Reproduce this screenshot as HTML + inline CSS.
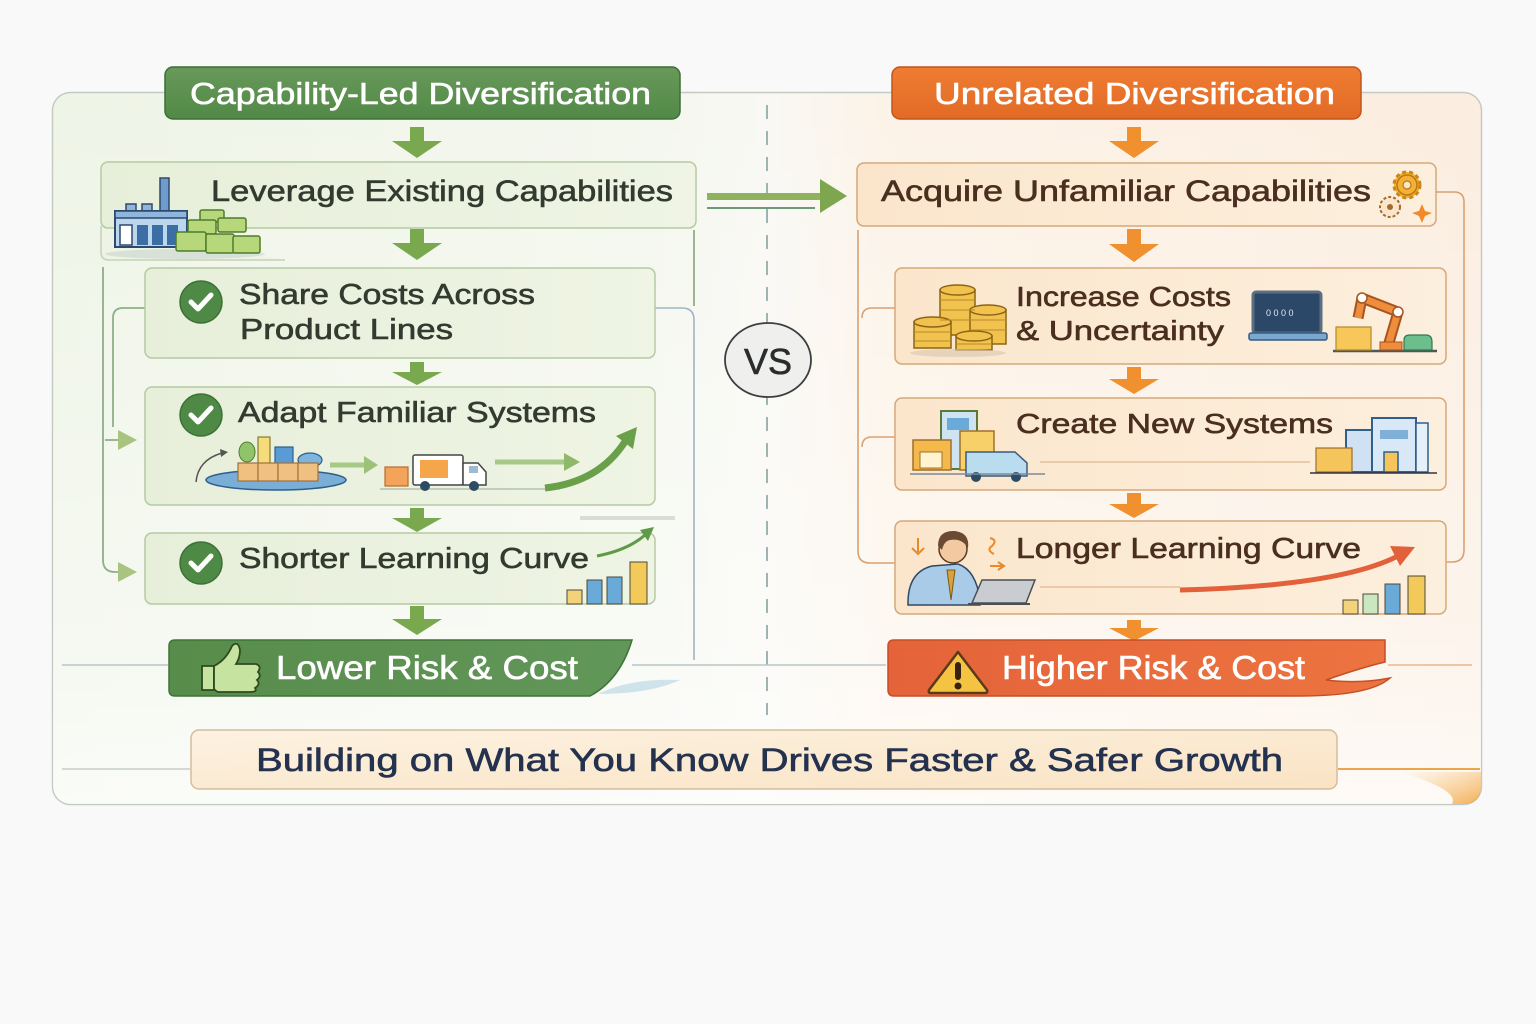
<!DOCTYPE html>
<html><head><meta charset="utf-8">
<style>
html,body{margin:0;padding:0;background:#faf9f9;}
svg{display:block;}
text{font-family:"Liberation Sans","DejaVu Sans",sans-serif;}
.d{stroke-width:0.6px;paint-order:stroke;}
</style></head><body>
<svg width="1536" height="1024" viewBox="0 0 1536 1024" xmlns="http://www.w3.org/2000/svg">
<defs>
 <linearGradient id="bgTint" x1="0" y1="0" x2="1" y2="0">
  <stop offset="0" stop-color="#eef4e6"/>
  <stop offset="0.42" stop-color="#f4f7ee"/>
  <stop offset="0.5" stop-color="#f9f8f4"/>
  <stop offset="0.58" stop-color="#fcf3e8"/>
  <stop offset="1" stop-color="#fbeddf"/>
 </linearGradient>
 <linearGradient id="vfade" x1="0" y1="0" x2="0" y2="1">
  <stop offset="0" stop-color="#ffffff" stop-opacity="0"/>
  <stop offset="0.8" stop-color="#ffffff" stop-opacity="0.45"/>
  <stop offset="1" stop-color="#ffffff" stop-opacity="0.7"/>
 </linearGradient>
 <linearGradient id="gHead" x1="0" y1="0" x2="0" y2="1">
  <stop offset="0" stop-color="#68995a"/>
  <stop offset="1" stop-color="#528947"/>
 </linearGradient>
 <linearGradient id="oHead" x1="0" y1="0" x2="0" y2="1">
  <stop offset="0" stop-color="#ef7d33"/>
  <stop offset="1" stop-color="#e26a25"/>
 </linearGradient>
 <linearGradient id="gBox" x1="0" y1="0" x2="1" y2="0">
  <stop offset="0" stop-color="#e7efda"/>
  <stop offset="1" stop-color="#eff4e4"/>
 </linearGradient>
 <linearGradient id="oBox" x1="0" y1="0" x2="1" y2="0">
  <stop offset="0" stop-color="#fbe6cc"/>
  <stop offset="1" stop-color="#fcefdd"/>
 </linearGradient>
 <linearGradient id="gBan" x1="0" y1="0" x2="1" y2="0">
  <stop offset="0" stop-color="#578c4b"/>
  <stop offset="1" stop-color="#62975a"/>
 </linearGradient>
 <linearGradient id="oBan" x1="0" y1="0" x2="1" y2="0">
  <stop offset="0" stop-color="#e5633a"/>
  <stop offset="1" stop-color="#ec7440"/>
 </linearGradient>
 <linearGradient id="bBan" x1="0" y1="0" x2="1" y2="1">
  <stop offset="0" stop-color="#fcf2e1"/>
  <stop offset="1" stop-color="#fae3c4"/>
 </linearGradient>
 <linearGradient id="corner" x1="0" y1="0" x2="1" y2="1">
  <stop offset="0" stop-color="#f7c170" stop-opacity="0"/>
  <stop offset="1" stop-color="#f2a23c" stop-opacity="0.85"/>
 </linearGradient>
</defs>

<!-- outer container -->
<rect x="52.5" y="92.5" width="1429" height="712" rx="18" fill="url(#bgTint)" stroke="#c3cac4" stroke-width="1.5"/>
<rect x="53" y="93" width="1428" height="711" rx="18" fill="url(#vfade)"/>
<path d="M1400,772 H1481 V786 Q1481,804 1463,804 H1452 Q1460,790 1400,772 Z" fill="url(#corner)"/>

<!-- dashed divider -->
<path d="M767,105 V715" stroke="#9fb3b1" stroke-width="2" stroke-dasharray="14 12"/>

<!-- connectors left -->
<g fill="none" stroke="#8fae88" stroke-width="1.8">
 <path d="M103,267 V560 Q103,572 115,572 H121"/>
 <path d="M145,308 H123 Q113,308 113,318 V427"/>
 <path d="M105,440 H121"/>
 <path d="M694,230 V306"/>
</g>
<path d="M655,308 H682 Q694,308 694,320 V660" fill="none" stroke="#9db5c4" stroke-width="1.6"/>
<polygon points="118,562 137,572 118,582" fill="#a9c47f"/>
<polygon points="118,430 137,440 118,450" fill="#a9c47f"/>

<!-- connectors right -->
<g fill="none" stroke="#d9a172" stroke-width="1.6">
 <path d="M1436,192 H1454 Q1464,192 1464,202 V550 Q1464,562 1452,562 H1446"/>
 <path d="M858,230 V551 Q858,563 870,563 H895"/>
 <path d="M895,308 H872 Q862,308 862,318"/>
 <path d="M895,437 H872 Q862,437 862,447"/>
</g>

<!-- horizontal lines -->
<path d="M62,665 H168" stroke="#b9c5c8" stroke-width="1.5"/>
<path d="M632,665 H886" stroke="#b9c5c8" stroke-width="1.5"/>
<path d="M1388,665 H1472" stroke="#e6b890" stroke-width="1.5"/>
<path d="M62,769 H190" stroke="#c8ccc8" stroke-width="1.5"/>
<path d="M1338,769 H1480" stroke="#eaa64a" stroke-width="2"/>

<!-- headers -->
<rect x="165" y="67" width="515" height="52" rx="8" fill="url(#gHead)" stroke="#3d6e36" stroke-width="1.5"/>
<text x="190" y="104" font-size="31" fill="#ffffff" class="d" stroke="#ffffff" textLength="461" lengthAdjust="spacingAndGlyphs">Capability-Led Diversification</text>
<rect x="892" y="67" width="469" height="52" rx="8" fill="url(#oHead)" stroke="#c2551d" stroke-width="1.5"/>
<text x="934" y="104" font-size="31" fill="#ffffff" class="d" stroke="#ffffff" textLength="401" lengthAdjust="spacingAndGlyphs">Unrelated Diversification</text>

<!-- green arrows -->
<g fill="#79a84f">
 <polygon points="410,127 424,127 424,141 442,141 417,158 392,141 410,141"/>
 <polygon points="410,229 424,229 424,243 442,243 417,260 392,243 410,243"/>
 <polygon points="410,362 424,362 424,372 442,372 417,385 392,372 410,372"/>
 <polygon points="410,508 424,508 424,518 442,518 417,532 392,518 410,518"/>
 <polygon points="410,606 424,606 424,619 442,619 417,635 392,619 410,619"/>
</g>
<!-- orange arrows -->
<g fill="#f0902e">
 <polygon points="1127,127 1141,127 1141,141 1159,141 1134,158 1109,141 1127,141"/>
 <polygon points="1127,229 1141,229 1141,244 1159,244 1134,262 1109,244 1127,244"/>
 <polygon points="1127,367 1141,367 1141,379 1159,379 1134,394 1109,379 1127,379"/>
 <polygon points="1127,493 1141,493 1141,504 1159,504 1134,518 1109,504 1127,504"/>
 <polygon points="1127,620 1141,620 1141,628 1159,628 1134,641 1109,628 1127,628"/>
</g>

<!-- cross arrow -->
<rect x="707" y="193" width="115" height="7" fill="#8fb25e"/>
<polygon points="820,179 847,196 820,213" fill="#7ea64e"/>
<path d="M707,208 H815" stroke="#6f9a7a" stroke-width="2"/>

<!-- VS -->
<ellipse cx="768" cy="360" rx="43" ry="37" fill="#efefed" stroke="#3b3f3f" stroke-width="1.8"/>
<text x="768" y="374" font-size="36" fill="#2a2d2d" class="d" stroke="#2a2d2d" text-anchor="middle">VS</text>

<!-- LEFT BOXES -->
<path d="M101,226 V252 Q101,260 109,260 H285" fill="#eef3e5" stroke="#c2d3b4" stroke-width="1.5"/>
<rect x="101" y="162" width="595" height="66" rx="7" fill="url(#gBox)" stroke="#b5caa3" stroke-width="1.5"/>
<text x="211" y="201" font-size="30" fill="#333a30" class="d" stroke="#333a30" textLength="462" lengthAdjust="spacingAndGlyphs">Leverage Existing Capabilities</text>

<rect x="145" y="268" width="510" height="90" rx="7" fill="url(#gBox)" stroke="#b5caa3" stroke-width="1.5"/>
<text x="239" y="304" font-size="29" fill="#333a30" class="d" stroke="#333a30" textLength="296" lengthAdjust="spacingAndGlyphs">Share Costs Across</text>
<text x="240" y="339" font-size="29" fill="#333a30" class="d" stroke="#333a30" textLength="213" lengthAdjust="spacingAndGlyphs">Product Lines</text>

<rect x="145" y="387" width="510" height="118" rx="7" fill="url(#gBox)" stroke="#b5caa3" stroke-width="1.5"/>
<text x="238" y="422" font-size="29" fill="#333a30" class="d" stroke="#333a30" textLength="358" lengthAdjust="spacingAndGlyphs">Adapt Familiar Systems</text>

<rect x="145" y="533" width="510" height="71" rx="7" fill="url(#gBox)" stroke="#b5caa3" stroke-width="1.5"/>
<text x="239" y="568" font-size="29" fill="#333a30" class="d" stroke="#333a30" textLength="350" lengthAdjust="spacingAndGlyphs">Shorter Learning Curve</text>

<!-- check circles -->
<g>
 <circle cx="201" cy="302" r="21" fill="#4e8a45" stroke="#3c7136" stroke-width="1.5"/>
 <path d="M191,302 L198,309 L211,295" fill="none" stroke="#fff" stroke-width="5" stroke-linecap="round" stroke-linejoin="round"/>
 <circle cx="201" cy="415" r="21" fill="#4e8a45" stroke="#3c7136" stroke-width="1.5"/>
 <path d="M191,415 L198,422 L211,408" fill="none" stroke="#fff" stroke-width="5" stroke-linecap="round" stroke-linejoin="round"/>
 <circle cx="201" cy="563" r="21" fill="#4e8a45" stroke="#3c7136" stroke-width="1.5"/>
 <path d="M191,563 L198,570 L211,556" fill="none" stroke="#fff" stroke-width="5" stroke-linecap="round" stroke-linejoin="round"/>
</g>

<!-- factory icon -->
<ellipse cx="185" cy="254" rx="80" ry="5" fill="#c9d6cf" opacity="0.6"/>
<rect x="160" y="178" width="9" height="36" fill="#6f9ccc" stroke="#2c4a6e" stroke-width="1.5"/>
<rect x="126" y="204" width="10" height="9" fill="#8fb5dc" stroke="#2c4a6e" stroke-width="1.5"/>
<rect x="142" y="204" width="10" height="9" fill="#8fb5dc" stroke="#2c4a6e" stroke-width="1.5"/>
<rect x="115" y="211" width="72" height="36" fill="#bcd6ee" stroke="#2c4a6e" stroke-width="2"/>
<rect x="115" y="211" width="72" height="7" fill="#8fb5dc" stroke="#2c4a6e" stroke-width="1.5"/>
<rect x="120" y="225" width="12" height="20" fill="#fff" stroke="#2c4a6e" stroke-width="1.5"/>
<rect x="137" y="225" width="11" height="20" fill="#3a6ea5"/>
<rect x="152" y="225" width="11" height="20" fill="#3a6ea5"/>
<rect x="167" y="225" width="11" height="20" fill="#3a6ea5"/>
<g fill="#b6d77a" stroke="#4f7d2a" stroke-width="1.5">
 <rect x="200" y="210" width="24" height="12" rx="2"/>
 <rect x="188" y="220" width="28" height="14" rx="2"/>
 <rect x="218" y="218" width="28" height="14" rx="2"/>
 <rect x="176" y="232" width="30" height="19" rx="2"/>
 <rect x="206" y="234" width="28" height="19" rx="2"/>
 <rect x="233" y="236" width="27" height="17" rx="2"/>
</g>

<!-- adapt icons -->
<ellipse cx="276" cy="480" rx="70" ry="10" fill="#7aaed6" stroke="#2f5f8d" stroke-width="1.5"/>
<ellipse cx="247" cy="452" rx="8" ry="10" fill="#8fc46a" stroke="#4f7d2a" stroke-width="1"/>
<rect x="258" y="437" width="12" height="28" fill="#f5dc7a" stroke="#8a7a30" stroke-width="1.2"/>
<rect x="275" y="447" width="18" height="18" fill="#5b9bd5" stroke="#2f5f8d" stroke-width="1.2"/>
<ellipse cx="310" cy="460" rx="12" ry="7" fill="#7db5e0" stroke="#2f5f8d" stroke-width="1.2"/>
<g fill="#f0c080" stroke="#a0703a" stroke-width="1.2">
 <rect x="238" y="463" width="20" height="18"/>
 <rect x="258" y="463" width="20" height="18"/>
 <rect x="278" y="463" width="20" height="18"/>
 <rect x="298" y="463" width="20" height="18"/>
</g>
<path d="M196,482 Q198,460 222,453" fill="none" stroke="#555" stroke-width="1.5"/>
<polygon points="220,449 228,452 221,457" fill="#555"/>
<path d="M330,465 H366" stroke="#a6c987" stroke-width="5"/>
<polygon points="364,456 378,465 364,474" fill="#9cc27a"/>
<path d="M380,489 H560" stroke="#aab6a8" stroke-width="1.2"/>
<rect x="385" y="467" width="23" height="19" fill="#f3a45a" stroke="#b86c2c" stroke-width="1.2"/>
<rect x="413" y="455" width="50" height="30" rx="2" fill="#ffffff" stroke="#444" stroke-width="1.5"/>
<rect x="420" y="460" width="28" height="18" fill="#f5a54a"/>
<path d="M463,463 H478 L486,472 V485 H463 Z" fill="#ffffff" stroke="#444" stroke-width="1.5"/>
<rect x="469" y="466" width="9" height="7" fill="#9fb9cf"/>
<circle cx="425" cy="486" r="5" fill="#2e4b66"/>
<circle cx="474" cy="486" r="5" fill="#2e4b66"/>
<path d="M495,462 H566" stroke="#a6c987" stroke-width="5"/>
<polygon points="564,453 580,462 564,471" fill="#8fb86a"/>
<path d="M545,488 Q600,482 626,440" fill="none" stroke="#6aa04a" stroke-width="7"/>
<polygon points="616,436 637,427 633,449" fill="#6aa04a"/>

<!-- shorter learning curve icons -->
<path d="M580,518 H675" stroke="#d7dcd5" stroke-width="4"/>
<path d="M597,556 Q628,550 645,535" fill="none" stroke="#5f9a48" stroke-width="3"/>
<polygon points="640,530 654,527 648,541" fill="#5f9a48"/>
<g stroke="#4a4a3a" stroke-width="1">
 <rect x="567" y="590" width="15" height="14" fill="#f3d27a"/>
 <rect x="587" y="580" width="15" height="24" fill="#6aaad8"/>
 <rect x="607" y="577" width="15" height="27" fill="#6aaad8"/>
 <rect x="630" y="562" width="17" height="42" fill="#f3c95a"/>
</g>

<!-- Lower risk banner -->
<path d="M175,640 H632 Q620,680 590,696 H175 Q169,696 169,690 V646 Q169,640 175,640 Z" fill="url(#gBan)" stroke="#3f7338" stroke-width="1.5"/>
<path d="M598,694 Q630,678 680,680 Q650,694 598,694 Z" fill="#bcd9e6" opacity="0.7"/>
<!-- thumbs up -->
<path d="M202,666 H214 V690 H202 Z" fill="#c6e3a0" stroke="#2e4a22" stroke-width="1.8"/>
<path d="M214,666 Q226,660 232,646 Q238,640 240,650 Q240,658 236,664 H256 Q262,666 258,672 Q262,676 257,680 Q261,684 255,688 Q258,692 250,692 H218 Q214,690 214,688 Z" fill="#c6e3a0" stroke="#2e4a22" stroke-width="1.8"/>
<text x="276" y="679" font-size="33" fill="#ffffff" class="d" stroke="#ffffff" textLength="302" lengthAdjust="spacingAndGlyphs">Lower Risk &amp; Cost</text>

<!-- RIGHT BOXES -->
<rect x="857" y="163" width="579" height="63" rx="7" fill="url(#oBox)" stroke="#d6a878" stroke-width="1.5"/>
<text x="881" y="201" font-size="30" fill="#4a2e1f" class="d" stroke="#4a2e1f" textLength="490" lengthAdjust="spacingAndGlyphs">Acquire Unfamiliar Capabilities</text>

<rect x="895" y="268" width="551" height="96" rx="7" fill="url(#oBox)" stroke="#d6a878" stroke-width="1.5"/>
<text x="1016" y="306" font-size="28" fill="#4a2e1f" class="d" stroke="#4a2e1f" textLength="215" lengthAdjust="spacingAndGlyphs">Increase Costs</text>
<text x="1016" y="340" font-size="28" fill="#4a2e1f" class="d" stroke="#4a2e1f" textLength="208" lengthAdjust="spacingAndGlyphs">&amp; Uncertainty</text>

<rect x="895" y="398" width="551" height="92" rx="7" fill="url(#oBox)" stroke="#d6a878" stroke-width="1.5"/>
<text x="1016" y="433" font-size="28" fill="#4a2e1f" class="d" stroke="#4a2e1f" textLength="317" lengthAdjust="spacingAndGlyphs">Create New Systems</text>

<rect x="895" y="521" width="551" height="93" rx="7" fill="url(#oBox)" stroke="#d6a878" stroke-width="1.5"/>
<text x="1016" y="558" font-size="29" fill="#4a2e1f" class="d" stroke="#4a2e1f" textLength="345" lengthAdjust="spacingAndGlyphs">Longer Learning Curve</text>

<!-- gears -->
<circle cx="1407" cy="185" r="13" fill="#f5b232" stroke="#c9861d" stroke-width="3" stroke-dasharray="4 3"/>
<circle cx="1407" cy="185" r="10" fill="#f5b232" stroke="#b67818" stroke-width="1.5"/>
<circle cx="1407" cy="185" r="4" fill="#fbe6cc" stroke="#b67818" stroke-width="1.2"/>
<circle cx="1390" cy="207" r="10" fill="#fbe6cc" stroke="#a66a2a" stroke-width="2" stroke-dasharray="3 2"/>
<circle cx="1390" cy="207" r="3" fill="#a66a2a"/>
<path d="M1422,204 L1425,211 L1432,213 L1425,216 L1422,223 L1419,216 L1412,213 L1419,211 Z" fill="#f08a2a"/>

<!-- coins -->
<g fill="#f1c24e" stroke="#8b6414" stroke-width="1.5">
 <rect x="940" y="290" width="35" height="45"/><ellipse cx="957.5" cy="290" rx="17.5" ry="5"/>
 <rect x="970" y="310" width="36" height="34"/><ellipse cx="988" cy="310" rx="18" ry="5"/>
 <rect x="914" y="322" width="37" height="26"/><ellipse cx="932.5" cy="322" rx="18.5" ry="5"/>
 <rect x="956" y="336" width="36" height="14"/><ellipse cx="974" cy="336" rx="18" ry="5"/>
</g>
<g stroke="#b78a28" stroke-width="1">
 <path d="M940,300 H975 M940,310 H975 M940,320 H975 M970,320 H1006 M970,330 H1006 M914,332 H951 M914,341 H951 M956,344 H992"/>
</g>
<ellipse cx="958" cy="353" rx="48" ry="4" fill="#d9c7b0" opacity="0.6"/>

<!-- laptop -->
<rect x="1253" y="292" width="68" height="41" rx="3" fill="#2b4868" stroke="#5d6e80" stroke-width="3"/>
<text x="1266" y="316" font-size="9" fill="#dfe8f0">0 0 0 0</text>
<rect x="1249" y="333" width="78" height="7" rx="2" fill="#7aa8d0" stroke="#3a5a7a" stroke-width="1.5"/>

<!-- robot arm -->
<path d="M1333,351 H1437" stroke="#555" stroke-width="2.5"/>
<rect x="1336" y="327" width="35" height="23" fill="#f7c75a" stroke="#b08a2a" stroke-width="1.2"/>
<path d="M1388,346 L1398,312 L1362,298 L1358,318" fill="none" stroke="#a8541e" stroke-width="11" stroke-linejoin="round"/>
<path d="M1388,346 L1398,312 L1362,298 L1358,318" fill="none" stroke="#ee8d3c" stroke-width="7" stroke-linejoin="round"/>
<circle cx="1398" cy="312" r="5" fill="#fff" stroke="#a8541e" stroke-width="1.5"/>
<circle cx="1362" cy="298" r="5" fill="#fff" stroke="#a8541e" stroke-width="1.5"/>
<rect x="1380" y="342" width="22" height="8" fill="#ee8d3c" stroke="#a8541e" stroke-width="1"/>
<path d="M1404,350 V340 Q1404,335 1410,335 H1426 Q1432,335 1432,342 V350 Z" fill="#6cbf8c" stroke="#2f7a4f" stroke-width="1.2"/>

<!-- create new systems icons -->
<path d="M1040,462 H1310" stroke="#e0b890" stroke-width="1.2"/>
<rect x="941" y="411" width="36" height="58" fill="#cfe3f0" stroke="#5a7a3a" stroke-width="2"/>
<rect x="947" y="418" width="22" height="12" fill="#6aaad8"/>
<rect x="913" y="440" width="38" height="30" fill="#f5b84a" stroke="#a0702a" stroke-width="1.5"/>
<rect x="920" y="452" width="22" height="16" fill="#fff3d0" stroke="#a0702a" stroke-width="1"/>
<rect x="960" y="431" width="34" height="39" fill="#f7d06a" stroke="#a0702a" stroke-width="1.5"/>
<path d="M966,452 H1015 L1027,463 V476 H966 Z" fill="#b9dcef" stroke="#3a5a7a" stroke-width="1.5"/>
<circle cx="976" cy="477" r="5" fill="#2e4b66"/><circle cx="1016" cy="477" r="5" fill="#2e4b66"/>
<path d="M910,474 H1045" stroke="#7a8a9a" stroke-width="1.5"/>
<rect x="1346" y="430" width="40" height="42" fill="#cfe1f3" stroke="#2f5f8d" stroke-width="2"/>
<rect x="1372" y="418" width="44" height="54" fill="#d8e8f6" stroke="#2f5f8d" stroke-width="2"/>
<rect x="1416" y="423" width="12" height="49" fill="#e6f0f8" stroke="#2f5f8d" stroke-width="1.5"/>
<rect x="1380" y="430" width="28" height="9" fill="#7fb0d8"/>
<rect x="1384" y="452" width="14" height="20" fill="#f5c45a" stroke="#2f5f8d" stroke-width="1.5"/>
<rect x="1316" y="448" width="36" height="24" fill="#f5c45a" stroke="#a0702a" stroke-width="1.2"/>
<path d="M1310,473 H1437" stroke="#334" stroke-width="1.5"/>

<!-- person -->
<path d="M1040,587 H1180" stroke="#e0b890" stroke-width="1.2"/>
<path d="M908,603 Q908,572 932,566 L958,564 Q976,570 980,600 V605 H908 Z" fill="#a9cbe8" stroke="#2f4a66" stroke-width="1.5"/>
<path d="M947,570 L951,600 L955,570 Z" fill="#d9a23a" stroke="#7a5a1a" stroke-width="1"/>
<circle cx="953" cy="549" r="14" fill="#f2c9a0" stroke="#5a3a20" stroke-width="1.5"/>
<path d="M938,546 Q938,530 955,531 Q970,533 968,548 Q962,538 950,540 Q944,541 942,550 Z" fill="#6a4a32"/>
<path d="M972,603 L982,580 H1035 L1026,603 Z" fill="#c9cdd2" stroke="#4a4f55" stroke-width="1.5"/>
<path d="M968,604 H1030" stroke="#4a4f55" stroke-width="2"/>
<g stroke="#e88a2a" stroke-width="2" fill="none">
 <path d="M918,538 V552 M912,548 L918,554 L924,548"/>
 <path d="M990,538 Q998,540 992,546 Q986,550 994,554"/>
 <path d="M990,566 H1004 M998,562 L1004,566 L998,570"/>
</g>
<path d="M1180,590 Q1340,586 1398,556" fill="none" stroke="#e2613a" stroke-width="5"/>
<polygon points="1390,546 1415,547 1400,566" fill="#e2613a"/>
<g stroke="#4a4a3a" stroke-width="1">
 <rect x="1343" y="600" width="15" height="14" fill="#f3d27a"/>
 <rect x="1363" y="594" width="15" height="20" fill="#c9e8c0"/>
 <rect x="1385" y="584" width="15" height="30" fill="#6aaad8"/>
 <rect x="1408" y="576" width="17" height="38" fill="#f3c95a"/>
</g>

<!-- Higher risk banner -->
<path d="M894,640 H1385 V662 Q1360,668 1326,680 Q1360,684 1390,678 Q1370,696 1300,696 H894 Q888,696 888,690 V646 Q888,640 894,640 Z" fill="url(#oBan)" stroke="#c54e25" stroke-width="1.5"/>
<path d="M958,652 L987,690 Q988,693 985,693 H931 Q928,693 929,690 Z" fill="#f5c342" stroke="#5a3a1a" stroke-width="2.5" stroke-linejoin="round"/>
<rect x="955" y="662" width="6" height="18" rx="3" fill="#3a2210"/>
<circle cx="958" cy="686" r="3.5" fill="#3a2210"/>
<text x="1002" y="679" font-size="33" fill="#ffffff" class="d" stroke="#ffffff" textLength="303" lengthAdjust="spacingAndGlyphs">Higher Risk &amp; Cost</text>

<!-- bottom banner -->
<rect x="191" y="730" width="1146" height="59" rx="8" fill="url(#bBan)" stroke="#d2bd9d" stroke-width="1.5"/>
<text x="256" y="771" font-size="32" fill="#24324f" class="d" stroke="#24324f" textLength="1027" lengthAdjust="spacingAndGlyphs">Building on What You Know Drives Faster &amp; Safer Growth</text>
</svg>
</body></html>
